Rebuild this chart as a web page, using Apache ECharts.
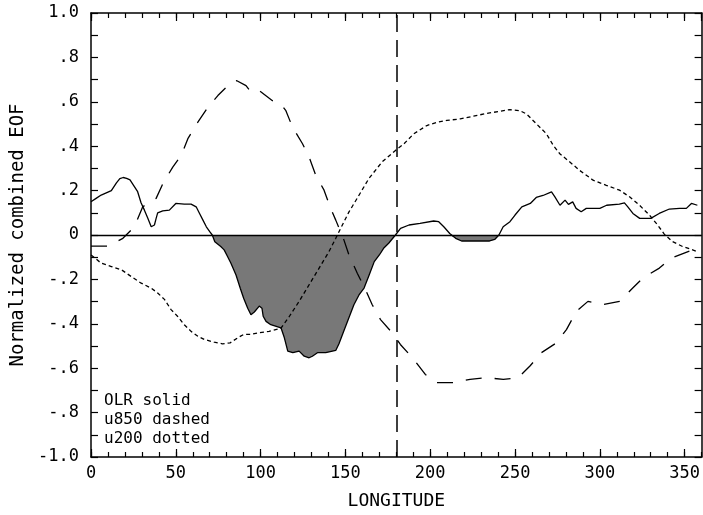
<!DOCTYPE html>
<html><head><meta charset="utf-8">
<script src="https://cdn.jsdelivr.net/npm/echarts@6/dist/echarts.min.js"></script>
<style>html,body{margin:0;padding:0;background:#fff}#c{width:703px;height:515px}</style>
</head><body><div id="c"></div>
<script>
// OLR (solid)
const olrLon = [0,3,6,9,12,15,17,19,21,23,25,27.5,29.5,31.5,33.5,35.5,37.4,38.4,39.3,42.3,46.2,50,55,59,62,64,66,68,70,71.5,73,76.5,78.5,80.5,82.5,85.5,88,90,92.4,94.3,96.3,99.2,100.8,101.5,103.2,106,112,114,116,119,122.7,125.7,128.6,130.5,133.5,138.4,144.3,146.2,149,152,155,158,161,164,167,170,172.5,175.5,179.5,182.5,187.5,194,202,205,208,211.5,212.5,215,218.5,225,235,238,240.5,243,247,250,254,259,262.5,266.5,271.5,273.5,276.5,279.5,281.5,284,286,289,292,300,304,311.5,314.5,316.5,319.5,323.5,330,335,341,347,351,354,357.5];
const olrVal = [0.15,0.165,0.18,0.19,0.2,0.235,0.254,0.259,0.255,0.248,0.225,0.195,0.145,0.112,0.075,0.037,0.045,0.075,0.1,0.109,0.112,0.142,0.139,0.139,0.127,0.097,0.067,0.037,0.015,0,-0.03,-0.052,-0.067,-0.097,-0.127,-0.18,-0.24,-0.285,-0.33,-0.359,-0.347,-0.32,-0.33,-0.366,-0.389,-0.404,-0.418,-0.463,-0.523,-0.53,-0.523,-0.546,-0.553,-0.546,-0.53,-0.53,-0.52,-0.49,-0.434,-0.374,-0.314,-0.27,-0.239,-0.18,-0.12,-0.09,-0.06,-0.037,0,0.03,0.045,0.052,0.063,0.06,0.037,0.007,0,-0.015,-0.027,-0.027,-0.027,-0.02,0,0.037,0.06,0.09,0.127,0.142,0.169,0.178,0.194,0.172,0.134,0.157,0.138,0.149,0.12,0.105,0.12,0.12,0.134,0.139,0.145,0.127,0.097,0.075,0.075,0.097,0.117,0.12,0.12,0.142,0.134];
// u850 (dashed)
const u850Lon = [0,5,10.6,14,18.8,25.6,30.5,38.4,42.4,48.2,53.3,57.1,63,68.9,74.8,82.6,86,91.4,94.4,99.2,107,112,114.9,118.8,124.7,128.6,132.5,137.4,141.3,144.3,149.1,152.1,157,161.9,165.8,170.7,177.5,182.4,190.3,197.1,203.9,213.7,223.5,233.3,243.1,251.9,258.8,265.6,274.4,280.3,286.2,293,297,301.8,311.6,319.4,325.3,335.1,341.9,354.7,357.5];
const u850Val = [-0.05,-0.05,-0.05,-0.035,-0.015,0.037,0.127,0.165,0.232,0.306,0.359,0.434,0.508,0.575,0.628,0.687,0.695,0.673,0.643,0.65,0.605,0.59,0.56,0.486,0.411,0.351,0.269,0.202,0.12,0.067,-0.022,-0.09,-0.172,-0.247,-0.314,-0.381,-0.44,-0.493,-0.56,-0.628,-0.665,-0.665,-0.65,-0.643,-0.65,-0.643,-0.59,-0.53,-0.486,-0.426,-0.344,-0.299,-0.305,-0.314,-0.299,-0.239,-0.194,-0.149,-0.105,-0.067,-0.06];
// u200 (dotted)
const u200Lon = [0,1.2,6,12,18,23.7,29.6,35.4,39.3,43.3,47.2,51,55,59,63,67,72.6,77.5,82,86.5,90,94,99,105,112,117,122.7,128.6,134.5,140.3,144.3,147.2,152.1,158,163.8,171.6,179.5,184.4,190.3,198,204,209.8,217.7,225.5,233.3,241.2,247,252.9,256.8,262.7,268.5,272.5,276.4,282.3,288.1,296,303.8,311.6,317.5,323.4,329.2,334.1,338,342.9,348.8,354.7,357.5];
const u200Val = [-0.09,-0.097,-0.127,-0.142,-0.157,-0.187,-0.217,-0.239,-0.261,-0.29,-0.336,-0.366,-0.404,-0.434,-0.456,-0.471,-0.483,-0.49,-0.486,-0.463,-0.448,-0.448,-0.44,-0.434,-0.42,-0.366,-0.299,-0.224,-0.149,-0.075,-0.015,0.03,0.104,0.179,0.254,0.329,0.381,0.41,0.456,0.493,0.508,0.516,0.523,0.535,0.548,0.557,0.565,0.56,0.545,0.5,0.456,0.404,0.366,0.329,0.291,0.247,0.224,0.202,0.172,0.134,0.09,0.045,0.004,-0.03,-0.052,-0.067,-0.075];

const legendLines = ['OLR solid', 'u850 dashed', 'u200 dotted'];
const xName = 'LONGITUDE';
const yName = 'Normalized combined EOF';
const refLon = 180;

const FONT = 'DejaVu Sans Mono';
const pairs = (xs, ys) => xs.map((x, i) => [x, ys[i]]);
function fmtY(v) {
  const t = Math.round(v * 10);
  if (t === 0) return '0';
  const s = t < 0 ? '-' : '';
  const a = Math.abs(t);
  return a === 10 ? s + '1.0' : s + '.' + a;
}

const axLine = { show: true, onZero: false, lineStyle: { color: '#000', width: 1.5 } };
const noLine = { show: false, onZero: false };
const noSplit = { show: false };
const tickStyle = { color: '#000', width: 1.2 };

const chart = echarts.init(document.getElementById('c'), null, { renderer: 'canvas' });
chart.setOption({
  animation: false,
  backgroundColor: '#fff',
  grid: { left: 91, right: 1, top: 13, bottom: 56, containLabel: false },
  xAxis: [
    { type: 'value', position: 'bottom', min: 0, max: 360, interval: 50,
      axisLine: axLine, splitLine: noSplit,
      axisTick: { inside: true, length: 8, lineStyle: tickStyle },
      axisLabel: { color: '#000', fontFamily: FONT, fontSize: 17, margin: 8, showMaxLabel: false },
      name: xName, nameLocation: 'middle', nameGap: 35,
      nameTextStyle: { color: '#000', fontFamily: FONT, fontSize: 18 } },
    { type: 'value', position: 'bottom', min: 0, max: 360, interval: 10,
      axisLine: noLine, splitLine: noSplit,
      axisTick: { inside: true, length: 5, lineStyle: tickStyle },
      axisLabel: { show: false } },
    { type: 'value', position: 'top', min: 0, max: 360, interval: 50,
      axisLine: axLine, splitLine: noSplit,
      axisTick: { inside: true, length: 8, lineStyle: tickStyle },
      axisLabel: { show: false } },
    { type: 'value', position: 'top', min: 0, max: 360, interval: 10,
      axisLine: noLine, splitLine: noSplit,
      axisTick: { inside: true, length: 5, lineStyle: tickStyle },
      axisLabel: { show: false } }
  ],
  yAxis: [
    { type: 'value', position: 'left', min: -1, max: 1, interval: 0.2,
      axisLine: axLine, splitLine: noSplit,
      axisTick: { inside: true, length: 7, lineStyle: tickStyle },
      minorTick: { show: true, splitNumber: 2, length: 7, lineStyle: tickStyle },
      minorSplitLine: { show: false },
      axisLabel: { color: '#000', fontFamily: FONT, fontSize: 17, margin: 12, formatter: fmtY },
      name: yName, nameLocation: 'middle', nameRotate: 90, nameGap: 63,
      nameTextStyle: { color: '#000', fontFamily: FONT, fontSize: 19 } },
    { type: 'value', position: 'right', min: -1, max: 1, interval: 0.2,
      axisLine: axLine, splitLine: noSplit,
      axisTick: { inside: true, length: 7, lineStyle: tickStyle },
      minorTick: { show: true, splitNumber: 2, length: 7, lineStyle: tickStyle },
      minorSplitLine: { show: false },
      axisLabel: { show: false } }
  ],
  series: [
    { name: 'OLR fill', type: 'line', xAxisIndex: 0, yAxisIndex: 0,
      data: pairs(olrLon, olrVal.map(v => Math.min(v, 0))),
      symbol: 'none', lineStyle: { width: 0, opacity: 0 },
      areaStyle: { color: '#787878', opacity: 1 }, z: 1, silent: true },
    { name: 'u200', type: 'line', xAxisIndex: 0, yAxisIndex: 0,
      data: pairs(u200Lon, u200Val), symbol: 'none',
      lineStyle: { color: '#000', width: 1.3, type: [4, 3] }, z: 3 },
    { name: 'u850', type: 'line', xAxisIndex: 0, yAxisIndex: 0,
      data: pairs(u850Lon, u850Val), symbol: 'none',
      lineStyle: { color: '#000', width: 1.3, type: [16, 13] }, z: 3 },
    { name: 'OLR', type: 'line', xAxisIndex: 0, yAxisIndex: 0,
      data: pairs(olrLon, olrVal), symbol: 'none',
      lineStyle: { color: '#000', width: 1.3 }, z: 4,
      markLine: { silent: true, symbol: 'none', label: { show: false },
        data: [
          { yAxis: 0, lineStyle: { color: '#000', width: 1.3, type: 'solid' } },
          { xAxis: refLon, lineStyle: { color: '#000', width: 1.5, type: [17, 8] } }
        ] } }
  ],
  graphic: legendLines.map((t, i) => ({
    type: 'text', x: 104, y: 401 + i * 19, z: 10,
    style: { text: t, font: '16px "' + FONT + '"', fill: '#000', verticalAlign: 'middle', align: 'left' }
  }))
});
</script>
</body></html>
